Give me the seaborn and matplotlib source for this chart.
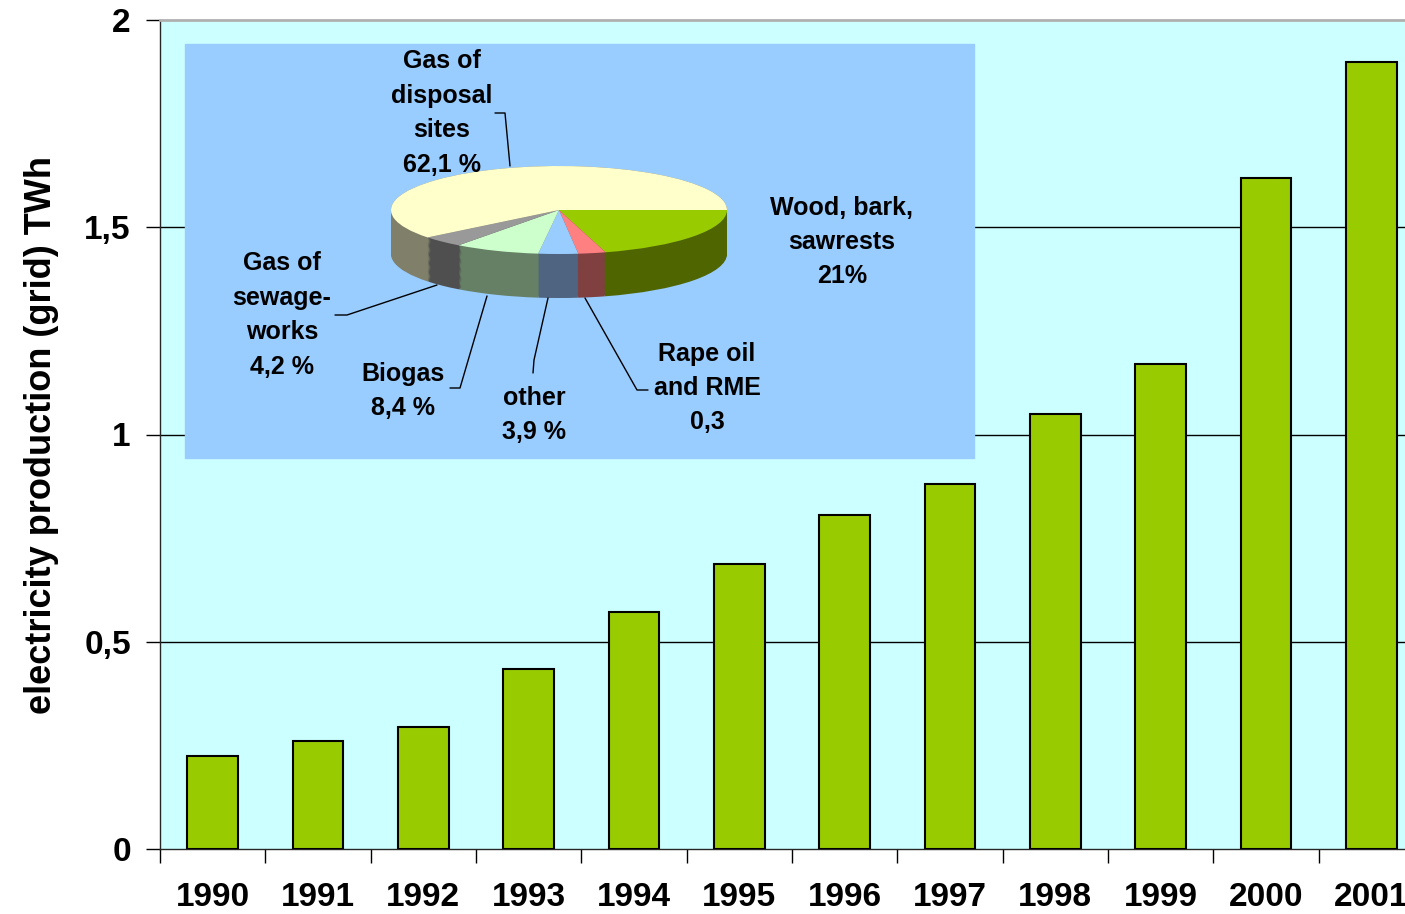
import glob
import numpy as np
import pandas as pd
import matplotlib
matplotlib.use("Agg")
import matplotlib.pyplot as plt
from matplotlib import font_manager
import seaborn as sns
from matplotlib.patches import Rectangle

# make sure the Liberation files are known to matplotlib
for f in glob.glob("/usr/share/fonts/**/Liberation*.ttf", recursive=True):
    try:
        font_manager.fontManager.addfont(f)
    except Exception:
        pass
names = sorted({f.name for f in font_manager.fontManager.ttflist})

# -----------------------------
# Data
# -----------------------------
years = ["1990", "1991", "1992", "1993", "1994", "1995",
         "1996", "1997", "1998", "1999", "2000", "2001"]
production = [0.224, 0.261, 0.294, 0.434, 0.572, 0.688,
              0.806, 0.881, 1.049, 1.170, 1.619, 1.899]

y_ticks = [0, 0.5, 1, 1.5, 2]
y_tick_labels = ["0", "0,5", "1", "1,5", "2"]

# pie: clockwise from 3 o'clock
pie_names = ["Wood, bark,\nsawrests\n21%", "Rape oil\nand RME\n0,3", "other\n3,9 %",
             "Biogas\n8,4 %", "Gas of\nsewage-\nworks\n4,2 %",
             "Gas of\ndisposal\nsites\n62,1 %"]
pie_shares = [21, 2.7, 3.9, 8.4, 4.2, 62.1]
pie_top = ["#99cc00", "#ff8080", "#99ccff", "#ccffcc", "#999999", "#ffffcc"]
pie_side = ["#4f6600", "#804040", "#4f6480", "#668066", "#4f4f4f", "#80806a"]

W, H = 1405, 914

sans = "Liberation Sans" if "Liberation Sans" in names else "Arimo"
narrow = "Liberation Sans Narrow" if "Liberation Sans Narrow" in names else sans

sns.set_style("ticks")
plt.rcParams["font.family"] = [sans, "DejaVu Sans"]
plt.rcParams["text.color"] = "black"
plt.rcParams["axes.labelcolor"] = "black"
plt.rcParams["xtick.color"] = "black"
plt.rcParams["ytick.color"] = "black"

fig = plt.figure(figsize=(W / 100, H / 100), dpi=100)

# -----------------------------
# Bar chart
# -----------------------------
step = 105.33
ax = fig.add_axes([160 / W, (H - 849) / H, 12 * step / W, 829 / H])
ax.set_facecolor("#ccffff")

df = pd.DataFrame({"year": years, "twh": production})
sns.barplot(data=df, x="year", y="twh", color="#99cc00", saturation=1,
            edgecolor="black", linewidth=1.5, width=0.48, ax=ax, zorder=3)

ax.set_ylim(0, 2)
ax.set_xlim(-0.5, 11.5)
ax.set_yticks(y_ticks)
ax.set_yticklabels(y_tick_labels, fontsize=24, fontweight="bold")
for v in [0.5, 1, 1.5]:
    ax.axhline(v, color="black", lw=1, zorder=1)

ax.set_xticks(range(len(years)))
ax.set_xticklabels(years, fontsize=24, fontweight="bold")
ax.set_xticks(np.arange(-0.5, 12, 1), minor=True)
ax.tick_params(axis="x", which="major", length=0, pad=24)
ax.tick_params(axis="x", which="minor", length=10, width=1, color="black")
ax.tick_params(axis="y", length=10, width=1, pad=11, color="black")

ax.set_xlabel("")
ax.set_ylabel("electricity production (grid) TWh", fontsize=26, fontweight="bold",
              family=[narrow, "DejaVu Sans"], labelpad=18)

ax.spines["right"].set_visible(False)
ax.spines["top"].set_color("#b0b0b0")
ax.spines["top"].set_linewidth(2)
ax.spines["left"].set_linewidth(1)
ax.spines["bottom"].set_linewidth(1)

# -----------------------------
# Inset box
# -----------------------------
bg = fig.add_axes([0, 0, 1, 1], zorder=5)
bg.set_xlim(0, W)
bg.set_ylim(H, 0)
bg.axis("off")
bg.add_patch(Rectangle((185, 44), 789, 414, color="#99ccff"))

# -----------------------------
# Pseudo-3D pie
# -----------------------------
pax = fig.add_axes([391 / W, (H - 298) / H, 336 / W, 132 / H], zorder=6)
for k in np.linspace(-1.0, 0, 40):
    pax.pie(pie_shares, colors=pie_side, startangle=0, counterclock=False,
            center=(0, k), wedgeprops=dict(linewidth=0))
pax.pie(pie_shares, colors=pie_top, startangle=0, counterclock=False,
        center=(0, 0), wedgeprops=dict(linewidth=0))
pax.set_aspect("auto")
pax.set_xlim(-1, 1)
pax.set_ylim(-2.0, 1.0)
pax.axis("off")

# -----------------------------
# Labels and leader lines
# -----------------------------
ann = fig.add_axes([0, 0, 1, 1], zorder=7)
ann.set_xlim(0, W)
ann.set_ylim(H, 0)
ann.axis("off")
ann.patch.set_alpha(0)

label_pos = [(842, 242), (707, 388), (534, 415), (403, 391), (282, 315), (442, 113)]
for name, (x, y) in zip(pie_names, label_pos):
    ann.text(x, y, name, ha="center", va="center", fontsize=18, fontweight="bold",
             linespacing=1.55, family=[narrow, "DejaVu Sans"])

leaders = [
    [(495, 113), (505, 113), (510, 166)],
    [(335, 315), (347, 315), (437, 285)],
    [(450, 388), (460, 388), (487, 296)],
    [(533, 373), (534, 360), (548, 298)],
    [(648, 390), (637, 390), (585, 298)],
]
for pts in leaders:
    xs, ys = zip(*pts)
    ann.plot(xs, ys, color="black", lw=1)

fig.savefig("out.png", dpi=100)
